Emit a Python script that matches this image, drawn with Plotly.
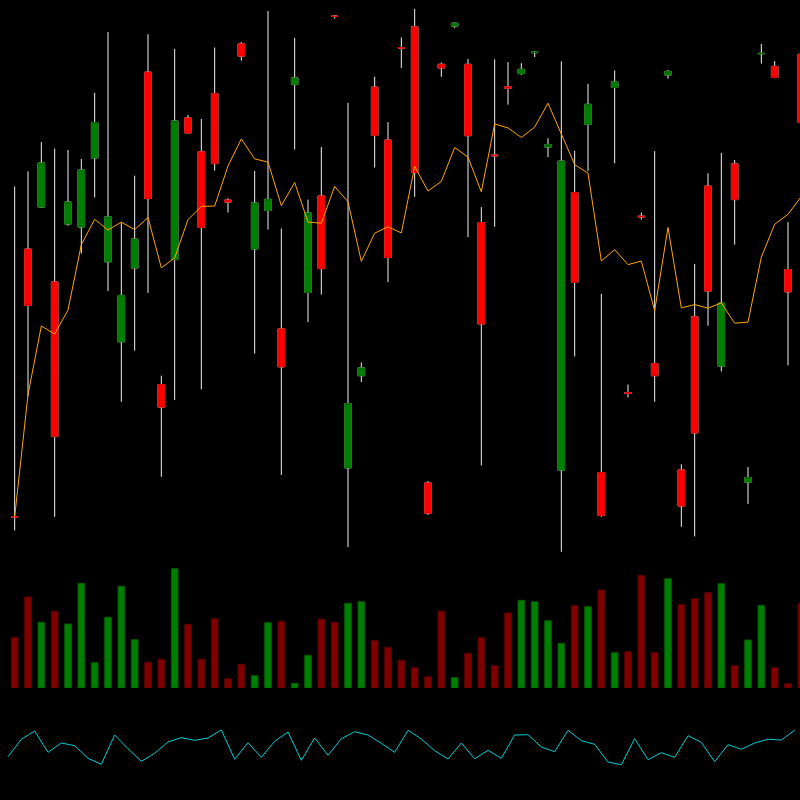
import numpy as np
import plotly.graph_objects as go

# ---- data (price units arbitrary, no axis labels shown) ----
opens = [8.35, 35.10, 39.30, 31.80, 37.60, 37.30, 44.21, 33.82, 25.82, 33.20,
         52.79, 21.54, 34.04, 48.21, 44.82, 50.64, 40.00, 55.61, 35.11, 38.96,
         27.11, 51.57, 30.75, 40.40, 58.40, 13.21, 22.43, 51.29, 46.00, 55.25,
         57.32, 11.71, 53.57, 57.39, 53.57, 37.75, 44.50, 51.32, 52.64, 54.73,
         45.29, 13.00, 40.75, 47.57, 12.75, 51.25, 20.73, 38.39, 23.64, 52.50,
         13.00, 28.32, 41.39, 23.39, 43.61, 11.79, 54.62, 53.36, 33.04, 54.57]
highs = [41.36, 42.86, 45.80, 45.14, 45.00, 44.10, 50.71, 56.79, 37.70, 42.43,
         56.57, 22.43, 55.11, 48.50, 48.11, 55.25, 40.18, 55.79, 42.90, 58.89,
         37.14, 56.21, 40.04, 45.29, 58.50, 49.71, 23.75, 52.32, 47.79, 56.25,
         59.11, 11.90, 53.75, 57.75, 54.11, 39.29, 54.07, 53.79, 53.68, 54.89,
         46.18, 53.86, 44.93, 51.61, 30.61, 52.96, 21.54, 38.75, 44.89, 53.00,
         13.57, 33.61, 42.68, 44.71, 44.00, 13.29, 55.61, 53.89, 37.79, 55.00]
lows = [6.96, 20.36, 39.25, 8.32, 37.43, 34.64, 40.25, 30.90, 19.82, 24.93,
        30.71, 12.32, 20.00, 46.71, 21.07, 42.93, 38.75, 53.93, 24.64, 37.04,
        12.50, 45.04, 27.79, 30.54, 58.14, 5.29, 21.79, 43.25, 31.79, 53.21,
        40.32, 8.50, 52.32, 57.21, 36.29, 13.46, 37.32, 49.54, 52.50, 54.29,
        44.29, 4.82, 24.36, 42.89, 8.32, 43.68, 20.25, 38.04, 19.82, 52.14,
        7.32, 6.36, 27.43, 22.86, 35.54, 9.61, 53.64, 52.18, 23.46, 46.50]
closes = [8.30, 29.46, 43.70, 16.36, 39.80, 43.00, 47.75, 38.32, 30.46, 36.10,
          40.14, 19.29, 47.90, 46.71, 37.25, 43.64, 39.80, 54.39, 39.71, 40.07,
          23.32, 52.21, 38.71, 33.14, 58.35, 19.64, 23.21, 46.46, 34.25, 55.20,
          42.75, 8.68, 53.21, 57.68, 46.43, 27.61, 44.43, 51.18, 53.07, 54.77,
          45.54, 43.89, 31.75, 49.57, 8.46, 51.82, 20.68, 38.32, 22.43, 52.86,
          9.40, 16.71, 30.89, 29.68, 40.04, 12.25, 54.66, 52.25, 30.82, 47.75]
moving_avg = [8.32, 20.54, 27.40, 26.60, 29.00, 35.54, 38.07, 37.00, 37.79, 37.04,
              38.25, 33.21, 34.21, 38.04, 39.36, 39.40, 43.40, 46.11, 44.11, 43.79,
              39.43, 41.75, 37.79, 37.68, 41.36, 39.82, 33.86, 36.68, 37.32, 36.71,
              43.36, 40.90, 41.86, 45.25, 44.29, 40.82, 47.61, 47.21, 46.25, 47.29,
              49.68, 46.61, 43.54, 42.68, 33.90, 35.04, 33.54, 33.89, 28.93, 37.25,
              29.21, 29.54, 29.18, 29.71, 27.68, 27.79, 34.29, 37.57, 38.57, 40.36]
volumes = [507, 910, 657, 767, 640, 1047, 253, 707, 1017, 483,
           257, 287, 1193, 637, 287, 693, 93, 237, 123, 653,
           667, 47, 327, 687, 657, 847, 863, 477, 407, 277,
           203, 113, 767, 103, 347, 503, 223, 750, 877, 863,
           673, 447, 823, 813, 980, 353, 363, 1127, 353, 1093,
           833, 893, 953, 1043, 223, 480, 827, 203, 43, 843]
oscillator = [43.3, 60.7, 69.0, 47.7, 57.0, 54.3, 41.7, 35.7, 65.0, 51.3,
              38.7, 46.7, 58.0, 62.3, 59.7, 62.0, 70.0, 40.7, 57.3, 42.7,
              58.7, 68.0, 39.7, 62.0, 44.7, 61.3, 68.3, 65.0, 56.7, 47.7,
              69.7, 61.0, 49.3, 41.0, 57.0, 41.3, 49.7, 41.7, 65.0, 65.3,
              53.0, 48.3, 69.7, 59.3, 55.7, 38.0, 35.3, 61.3, 40.3, 47.3,
              42.7, 64.3, 57.7, 38.3, 55.3, 50.7, 57.0, 60.7, 60.0, 69.7]

n = len(opens)
x = np.arange(n)
body_hi = [max(o, c) for o, c in zip(opens, closes)]
body_lo = [min(o, c) for o, c in zip(opens, closes)]
vol_colors = ["#008000" if c > o else "#800000" for o, c in zip(opens, closes)]
vol_lines = ["#005a00" if c > o else "#5a0000" for o, c in zip(opens, closes)]

fig = go.Figure()

# wicks (white)
fig.add_trace(go.Candlestick(
    x=x, open=opens, high=highs, low=lows, close=closes,
    increasing=dict(line=dict(color="#f0f0f0", width=1), fillcolor="#f0f0f0"),
    decreasing=dict(line=dict(color="#f0f0f0", width=1), fillcolor="#f0f0f0"),
    xaxis="x", yaxis="y", showlegend=False, hoverinfo="skip"))

# bodies (coloured)
fig.add_trace(go.Candlestick(
    x=x, open=opens, high=body_hi, low=body_lo, close=closes,
    increasing=dict(line=dict(color="#006a00", width=1), fillcolor="#008000"),
    decreasing=dict(line=dict(color="#e00000", width=1), fillcolor="#ff0000"),
    xaxis="x", yaxis="y", showlegend=False))

# moving average
fig.add_trace(go.Scatter(
    x=x, y=moving_avg, mode="lines",
    line=dict(color="#ffa500", width=1), xaxis="x", yaxis="y", showlegend=False))

# volume
fig.add_trace(go.Bar(
    x=x, y=volumes, width=0.5,
    marker=dict(color=vol_colors, line=dict(color=vol_lines, width=1)),
    xaxis="x", yaxis="y2", showlegend=False))

# oscillator (plotted half a step earlier, as in the reference)
fig.add_trace(go.Scatter(
    x=x - 0.5, y=oscillator, mode="lines",
    line=dict(color="#00cdd0", width=1), xaxis="x", yaxis="y3", showlegend=False))

fig.update_layout(
    width=800, height=800,
    margin=dict(l=0, r=0, t=0, b=0),
    paper_bgcolor="black", plot_bgcolor="black",
    showlegend=False,
    xaxis=dict(range=[-1.1, 58.9], visible=False, rangeslider=dict(visible=False)),
    yaxis=dict(domain=[0.3, 1.0], range=[4, 60], visible=False),
    yaxis2=dict(domain=[0.14, 0.3], range=[0, 1280], visible=False),
    yaxis3=dict(domain=[0.0, 0.125], range=[0, 100], visible=False),
    bargap=0.5,
)

fig.write_html(
    "out.html",
    config={"displayModeBar": False},
    post_script="document.body.style.margin='0';document.body.style.background='black';"
                "document.body.style.overflow='hidden';",
)
